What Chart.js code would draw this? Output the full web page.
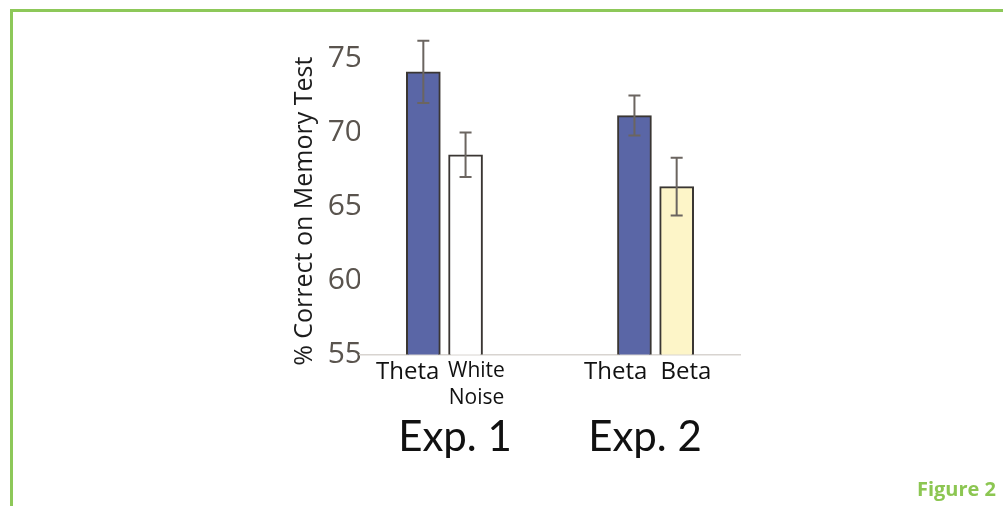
<!DOCTYPE html>
<html>
<head>
<meta charset="utf-8">
<script src="https://cdn.jsdelivr.net/npm/chart.js@4/dist/chart.umd.min.js"></script>
<style>
  html, body { margin: 0; padding: 0; background: #ffffff; }
  #wrap { position: relative; width: 1003px; height: 506px; overflow: hidden; }
  #frame { position: absolute; left: 10px; top: 9px; right: -10px; bottom: -10px;
           border-top: 3px solid #8dc859; border-left: 3px solid #8dc859; }
  #fig { position: absolute; right: 7px; top: 477px; font: bold 20px "Open Sans", sans-serif;
         color: #8cc652; line-height: 24px; }
  canvas { position: absolute; left: 0; top: 0; }
</style>
</head>
<body>
<div id="wrap">
  <div id="frame"></div>
  <canvas id="c" width="1003" height="506"></canvas>
  <div id="fig">Figure 2</div>
</div>
<script>
// ---- data ----
const conditions = ["Theta", "White Noise", "Theta", "Beta"];
const experiments = ["Exp. 1", "Exp. 2"];
const means = [74.1, 68.5, 71.15, 66.35];
const errors = [2.1, 1.5, 1.35, 1.95];
const yTicks = [55, 60, 65, 70, 75];
const fills = ["#5a66a6", "#ffffff", "#5a66a6", "#fdf5c8"];

// slot layout: blank | Exp1 pair | gap | Exp2 pair | blank
const slotOf = [1, 2, 6, 7];
// label nudges (in spaces): negative = trailing spaces (shift left), positive = leading
const nudge = [-5, 4, -6, 3];
const nSlots = 9;
const labels = Array(nSlots).fill("");
const values = Array(nSlots).fill(null);
const errs = Array(nSlots).fill(null);
const colors = Array(nSlots).fill("#ffffff");
const slotCond = Array(nSlots).fill(-1);
slotOf.forEach((s, i) => {
  labels[s] = conditions[i];
  values[s] = means[i];
  errs[s] = errors[i];
  colors[s] = fills[i];
  slotCond[s] = i;
});

function tickText(index) {
  const i = slotCond[index];
  if (i < 0) return "";
  const n = nudge[i];
  const pad = s => n < 0 ? s + " ".repeat(-n) : " ".repeat(n) + s;
  const words = conditions[i].split(" ");
  return words.length > 1 ? words.map(pad) : pad(conditions[i]);
}

const errorBars = {
  id: "errorBars",
  afterDatasetsDraw(chart) {
    const ctx = chart.ctx;
    const y = chart.scales.y;
    const meta = chart.getDatasetMeta(0);
    ctx.save();
    ctx.strokeStyle = "#6b6560";
    ctx.lineWidth = 2;
    meta.data.forEach((bar, i) => {
      if (values[i] == null) return;
      const top = y.getPixelForValue(values[i] + errs[i]);
      const bot = y.getPixelForValue(values[i] - errs[i]);
      const x = bar.x;
      ctx.beginPath();
      ctx.moveTo(x, top); ctx.lineTo(x, bot);
      ctx.moveTo(x - 6, top); ctx.lineTo(x + 6, top);
      ctx.moveTo(x - 6, bot); ctx.lineTo(x + 6, bot);
      ctx.stroke();
    });
    ctx.restore();
  }
};

new Chart(document.getElementById("c"), {
  type: "bar",
  data: {
    labels: labels,
    datasets: [{
      data: values,
      backgroundColor: colors,
      borderColor: "#3a3633",
      borderWidth: 2,
      barThickness: 34,
      xAxisID: "x",
      yAxisID: "y"
    }]
  },
  options: {
    responsive: false,
    animation: false,
    devicePixelRatio: 1,
    layout: { padding: { left: 290, right: 263, top: 29, bottom: 36.5 } },
    plugins: { legend: { display: false }, tooltip: { enabled: false } },
    scales: {
      y: {
        min: 55, max: 77,
        afterBuildTicks(scale) { scale.ticks = yTicks.map(v => ({ value: v })); },
        afterFit(scale) { scale.width = 70; },
        grid: { display: false },
        border: { display: false },
        ticks: { padding: -10, color: "#5a544e", font: { family: "Open Sans", size: 30 } },
        title: {
          display: true,
          text: "% Correct on Memory Test      ",
          color: "#1c1c1c",
          padding: { top: 0, bottom: 0 },
          font: { family: "Open Sans", size: 25 }
        }
      },
      x: {
        position: "bottom",
        afterFit(scale) { scale.height = 55; },
        grid: { display: false, drawTicks: false },
        border: { display: true, color: "#d8d4d0", width: 1.5 },
        ticks: {
          padding: 3,
          autoSkip: false,
          maxRotation: 0,
          color: "#111111",
          callback(value, index) { return tickText(index); },
          font(ctx) {
            const i = slotCond[ctx.index];
            return (i >= 0 && conditions[i].includes(" "))
              ? { family: "Open Sans", size: 21, lineHeight: 1.3 }
              : { family: "Open Sans", size: 24 };
          }
        }
      },
      x2: {
        type: "category",
        labels: experiments,
        position: "bottom",
        afterFit(scale) { scale.height = 60; },
        grid: { display: false, drawTicks: false },
        border: { display: false },
        ticks: { padding: 3, color: "#111111", font: { family: "Lato", size: 42 } }
      }
    }
  },
  plugins: [errorBars]
});
</script>
</body>
</html>
